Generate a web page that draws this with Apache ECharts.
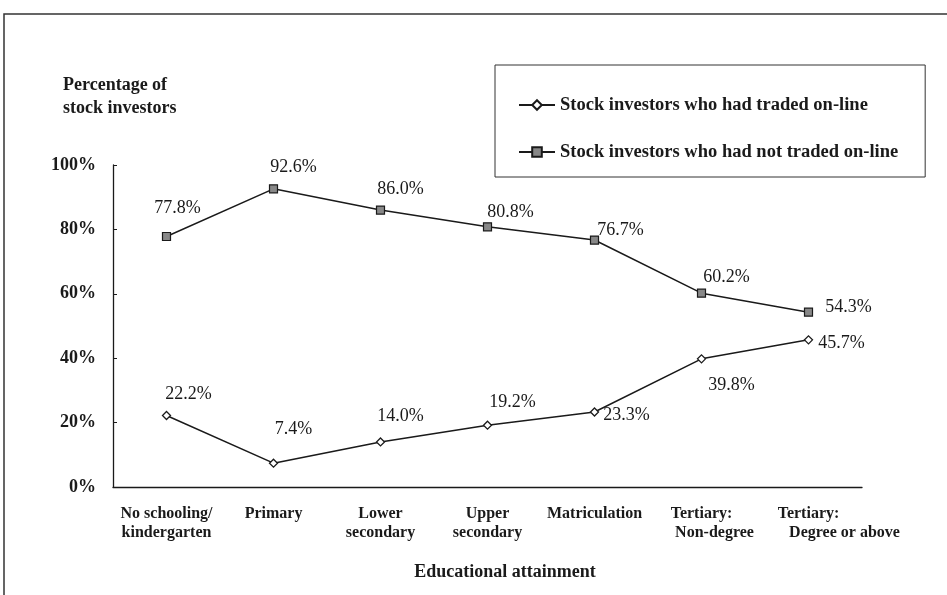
<!DOCTYPE html>
<html>
<head>
<meta charset="utf-8">
<script src="https://cdn.jsdelivr.net/npm/echarts@6/dist/echarts.min.js"></script>
<style>
    html, body { margin: 0; padding: 0; background: #fff; }
    #chart { width: 947px; height: 595px; }
</style>
</head>
<body>
<div id="chart"></div>
<script>
const categories = [
    'No schooling/\nkindergarten',
    'Primary',
    'Lower\nsecondary',
    'Upper\nsecondary',
    'Matriculation',
    'Tertiary:\nNon-degree',
    'Tertiary:\nDegree or above'
];
const tradedOnline = [22.2, 7.4, 14.0, 19.2, 23.3, 39.8, 45.7];
const notTradedOnline = [77.8, 92.6, 86.0, 80.8, 76.7, 60.2, 54.3];
const yTicks = [0, 20, 40, 60, 80, 100];

// label placement, offset from the marker centre
const tradedLabelOffset = [[22, -21], [20, -34], [20, -26], [25, -23], [32, 3], [30, 26], [33, 3]];
const notTradedLabelOffset = [[11, -28], [20, -22], [20, -21], [23, -15], [26, -10], [25, -16], [40, -5]];
// indentation of the second line of the x labels
const secondLineIndent = [0, 0, 0, 0, 0, 26, 72];

const serif = '"Liberation Serif", "Times New Roman", serif';
const ink = '#1a1a1a';

function pointData (values, offsets) {
    return values.map(function (v, i) {
        return {
            value: v,
            label: { offset: offsets[i] }
        };
    });
}

function richLine (indent) {
    return { fontFamily: serif, fontWeight: 'bold', fontSize: 16, lineHeight: 19, color: ink, padding: [0, 0, 0, indent] };
}

const chart = echarts.init(document.getElementById('chart'));
const options = {
    animation: false,
    backgroundColor: '#fff',
    graphic: [{
        type: 'rect',
        shape: { x: 4, y: 14, width: 1000, height: 1000 },
        style: { fill: 'none', stroke: '#333', lineWidth: 1.5 },
        silent: true
    }],
    title: {
        text: 'Percentage of\nstock investors',
        left: 63,
        top: 74,
        padding: 0,
        textStyle: {
            fontFamily: serif,
            fontWeight: 'bold',
            fontSize: 18,
            lineHeight: 23,
            color: ink
        }
    },
    legend: {
        orient: 'vertical',
        left: 495,
        top: 65,
        padding: [30, 27, 15, 23],
        itemGap: 27,
        itemWidth: 36,
        itemHeight: 12,
        borderColor: '#333',
        borderWidth: 1,
        textStyle: {
            fontFamily: serif,
            fontWeight: 'bold',
            fontSize: 18.5,
            lineHeight: 20,
            color: ink
        }
    },
    grid: {
        left: 113,
        right: 85,
        top: 165,
        bottom: 108
    },
    xAxis: {
        type: 'category',
        data: categories,
        boundaryGap: true,
        name: 'Educational attainment',
        nameLocation: 'middle',
        nameGap: 76,
        nameTextStyle: {
            fontFamily: serif,
            fontWeight: 'bold',
            fontSize: 18,
            color: ink,
            padding: [0, 0, 0, 35]
        },
        axisLine: { lineStyle: { color: ink, width: 1.3 } },
        axisTick: { inside: true, length: 4, lineStyle: { color: ink } },
        axisLabel: {
            interval: 0,
            margin: 17,
            fontFamily: serif,
            fontWeight: 'bold',
            fontSize: 16,
            lineHeight: 19,
            color: ink,
            formatter: function (value, index) {
                const lines = value.split('\n');
                if (lines.length < 2) {
                    return value;
                }
                return lines[0] + '\n{i' + secondLineIndent[index] + '|' + lines[1] + '}';
            },
            rich: {
                i0: richLine(0),
                i26: richLine(26),
                i72: richLine(72)
            }
        },
        splitLine: { show: false }
    },
    yAxis: {
        type: 'value',
        min: yTicks[0],
        max: yTicks[yTicks.length - 1],
        interval: 20,
        axisLine: { show: true, lineStyle: { color: ink, width: 1.3 } },
        axisTick: { show: true, inside: true, length: 4, lineStyle: { color: ink } },
        axisLabel: {
            margin: 17,
            fontFamily: serif,
            fontWeight: 'bold',
            fontSize: 18,
            color: ink,
            formatter: '{value}%'
        },
        splitLine: { show: false }
    },
    series: [{
        name: 'Stock investors who had traded on-line',
        type: 'line',
        data: pointData(tradedOnline, tradedLabelOffset),
        symbol: 'diamond',
        symbolSize: 8,
        color: ink,
        lineStyle: { color: ink, width: 1.5 },
        itemStyle: { color: '#fff', borderColor: ink, borderWidth: 1.3 },
        label: {
            show: true,
            position: 'inside',
            formatter: function (p) { return p.value.toFixed(1) + '%'; },
            fontFamily: serif,
            fontSize: 18,
            color: ink
        }
    }, {
        name: 'Stock investors who had not traded on-line',
        type: 'line',
        data: pointData(notTradedOnline, notTradedLabelOffset),
        symbol: 'rect',
        symbolSize: 8,
        color: ink,
        lineStyle: { color: ink, width: 1.5 },
        itemStyle: { color: '#888', borderColor: ink, borderWidth: 1.2 },
        label: {
            show: true,
            position: 'inside',
            formatter: function (p) { return p.value.toFixed(1) + '%'; },
            fontFamily: serif,
            fontSize: 18,
            color: ink
        }
    }]
};
chart.setOption(options);
window.onresize = function () {
    chart.resize();
};
</script>
</body>
</html>
